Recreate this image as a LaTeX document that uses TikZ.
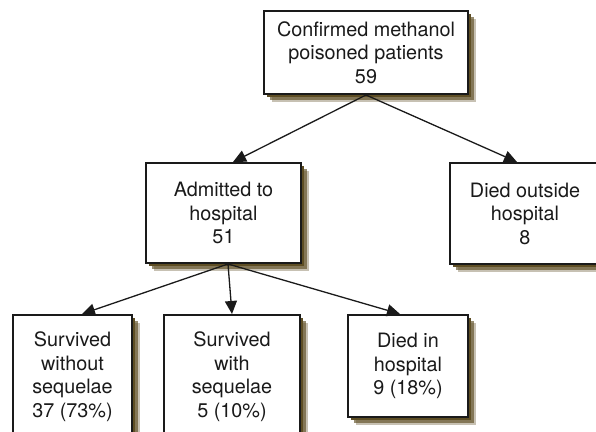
\documentclass[tikz,border=0pt]{standalone}
\usepackage{fontspec}
\setmainfont{TeX Gyre Heros}
\usetikzlibrary{arrows.meta,shadows,calc}
\definecolor{fcInk}{HTML}{1A1A1A}
\definecolor{fcShade}{HTML}{5E4E24}
\tikzset{
  fbox/.style={draw=fcInk, line width=1pt, fill=white, align=center, inner sep=0pt,
    font=\fontsize{9.9}{11.75}\selectfont, text=fcInk,
    drop shadow={shadow xshift=1.6pt, shadow yshift=-1.6pt, fill=fcShade, opacity=1},
    drop shadow={shadow xshift=2.8pt, shadow yshift=-2.8pt, fill=fcShade, opacity=.65},
    drop shadow={shadow xshift=4pt, shadow yshift=-4pt, fill=fcShade, opacity=.35}},
  fboxopen/.style={fbox, anchor=north, inner ysep=8.5pt, text depth=9pt},
  farr/.style={-{Triangle[length=6.5pt,width=6pt]}, line width=0.65pt, draw=fcInk},
}
\begin{document}
\begin{tikzpicture}[x=1pt,y=1pt]
  \useasboundingbox (0,0) rectangle (298,216);
  % levels
  \node[fbox, minimum width=102pt, minimum height=41.5pt] (conf) at (183,189.75)
    {Confirmed methanol\\poisoned patients\\59};
  \node[fbox, minimum width=77.5pt, minimum height=50pt] (adm) at (111.75,109.5)
    {Admitted to\\hospital\\51};
  \node[fbox, minimum width=75pt, minimum height=50.5pt] (out) at (262.5,109.25)
    {Died outside\\hospital\\8};
  \node[fboxopen, minimum width=59.5pt] (swo) at (36.25,59)
    {Survived\\without\\sequelae\\37 (73\%)};
  \node[fboxopen, minimum width=68pt] (swi) at (116,59)
    {Survived\\with\\sequelae\\5 (10\%)};
  \node[fbox, minimum width=60pt, minimum height=51pt] (dih) at (204,33)
    {Died in\\hospital\\9 (18\%)};
  % arrows
  \draw[farr] (conf.south) -- ([xshift=4.75pt]adm.north);
  \draw[farr] (conf.south) -- ([xshift=-4pt]out.north);
  \draw[farr] ([xshift=2.25pt]adm.south) -- ([xshift=4.75pt]swo.north);
  \draw[farr] ([xshift=2.25pt]adm.south) -- (swi.north);
  \draw[farr] ([xshift=2.25pt]adm.south) -- ([xshift=-4pt]dih.north);
\end{tikzpicture}
\end{document}
